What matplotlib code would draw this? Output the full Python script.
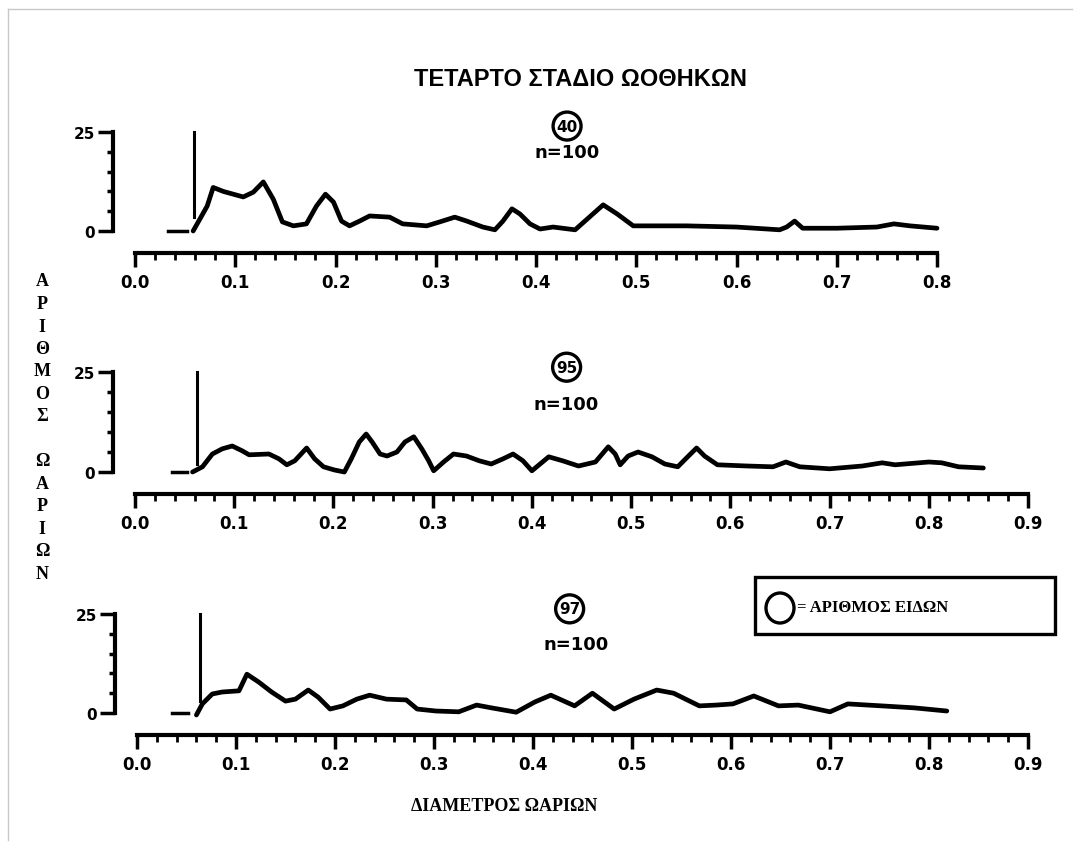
import matplotlib
matplotlib.use('Agg')
import matplotlib.pyplot as plt
import numpy as np
from matplotlib.patches import Rectangle, Ellipse
from matplotlib.lines import Line2D
from matplotlib.ticker import MultipleLocator

plt.rcParams['font.family'] = ['DejaVu Sans']
plt.rcParams['font.weight'] = 'bold'

# --- data (x = diameter, y = number of eggs) ---
x1 = [0.058, 0.072, 0.078, 0.088, 0.108, 0.118, 0.128, 0.138, 0.147, 0.158,
      0.171, 0.181, 0.190, 0.198, 0.206, 0.214, 0.224, 0.234, 0.254, 0.267,
      0.291, 0.304, 0.319, 0.331, 0.347, 0.359, 0.367, 0.376, 0.384, 0.394,
      0.404, 0.417, 0.439, 0.451, 0.467, 0.481, 0.497, 0.550, 0.600, 0.643,
      0.650, 0.658, 0.666, 0.700, 0.740, 0.757, 0.773, 0.800]
y1 = [0.0, 6.3, 11.0, 10.0, 8.6, 9.8, 12.4, 8.0, 2.3, 1.3,
      1.8, 6.3, 9.3, 7.3, 2.5, 1.3, 2.5, 3.8, 3.5, 1.8,
      1.3, 2.3, 3.5, 2.5, 1.0, 0.3, 2.5, 5.6, 4.3, 1.8,
      0.5, 1.0, 0.3, 3.0, 6.6, 4.3, 1.3, 1.3, 1.0, 0.3,
      1.0, 2.5, 0.7, 0.7, 1.0, 1.8, 1.3, 0.7]

x2 = [0.058, 0.068, 0.078, 0.088, 0.098, 0.108, 0.115, 0.135, 0.145, 0.153,
      0.161, 0.173, 0.181, 0.190, 0.201, 0.211, 0.218, 0.226, 0.233, 0.239,
      0.247, 0.254, 0.264, 0.272, 0.281, 0.289, 0.296, 0.301, 0.311, 0.321,
      0.334, 0.347, 0.359, 0.371, 0.381, 0.391, 0.400, 0.417, 0.431, 0.447,
      0.464, 0.477, 0.484, 0.489, 0.497, 0.507, 0.521, 0.534, 0.547, 0.557,
      0.566, 0.574, 0.587, 0.617, 0.643, 0.656, 0.670, 0.700, 0.733, 0.753,
      0.766, 0.800, 0.813, 0.830, 0.855]
y2 = [0.0, 1.3, 4.5, 5.8, 6.5, 5.3, 4.3, 4.5, 3.3, 1.8,
      2.8, 6.0, 3.3, 1.3, 0.5, 0.0, 3.3, 7.5, 9.5, 7.5,
      4.5, 4.0, 5.0, 7.5, 8.8, 5.8, 2.8, 0.3, 2.5, 4.5,
      4.0, 2.8, 2.0, 3.3, 4.5, 2.8, 0.3, 3.8, 2.8, 1.5,
      2.5, 6.3, 4.5, 1.8, 4.0, 5.0, 3.8, 2.0, 1.3, 3.8,
      6.0, 4.0, 1.8, 1.5, 1.3, 2.5, 1.3, 0.8, 1.5, 2.3,
      1.8, 2.5, 2.3, 1.3, 1.0]

x3 = [0.060, 0.066, 0.076, 0.086, 0.103, 0.111, 0.123, 0.136, 0.150, 0.160,
      0.173, 0.183, 0.195, 0.208, 0.222, 0.235, 0.252, 0.272, 0.283, 0.302,
      0.325, 0.343, 0.358, 0.383, 0.402, 0.418, 0.442, 0.460, 0.482, 0.502,
      0.525, 0.542, 0.568, 0.585, 0.602, 0.623, 0.648, 0.668, 0.700, 0.718,
      0.752, 0.785, 0.818]
y3 = [-0.5, 2.3, 4.8, 5.3, 5.6, 9.8, 7.8, 5.3, 3.0, 3.5,
      5.8, 4.0, 1.0, 1.8, 3.5, 4.5, 3.5, 3.3, 1.0, 0.5,
      0.3, 2.0, 1.3, 0.2, 2.8, 4.5, 1.8, 5.0, 1.0, 3.5,
      5.8, 5.0, 1.8, 2.0, 2.3, 4.3, 1.8, 2.0, 0.3, 2.3,
      1.8, 1.3, 0.5]

species = ['40', '95', '97']
n_eggs = ['n=100', 'n=100', 'n=100']
cutoff_x = [0.059, 0.062, 0.064]
cutoff_low = [3.5, 2.0, 3.0]
dash_x = [(0.033, 0.052), (0.037, 0.052), (0.035, 0.052)]
x_max = [0.8, 0.9, 0.9]

title = 'ΤΕΤΑΡΤΟ ΣΤΑΔΙΟ ΩΟΘΗΚΩΝ'
xlabel = 'ΔΙΑΜΕΤΡΟΣ ΩΑΡΙΩΝ'
ylabel = 'ΑΡΙΘΜΟΣ ΩΑΡΙΩΝ'
legend_text = '= ΑΡΙΘΜΟΣ ΕΙΔΩΝ'

W, H = 1080, 845


def px_rect(left, top, right, bottom):
    return [left / W, 1 - bottom / H, (right - left) / W, (bottom - top) / H]


fig = plt.figure(figsize=(10.8, 8.45), dpi=100)

# axes boxes in pixels: (x=0, y=25 top, x=xmax, y=0 bottom)
boxes = [px_rect(135, 133, 937, 232),
         px_rect(135, 373, 1028, 473),
         px_rect(137, 615, 1028, 714)]
# label positions (data coords) for circled number and n
circ_pos = [(0.431, 26.5), (0.435, 26.2), (0.437, 26.3)]
n_pos = [(0.431, 19.9), (0.435, 17.0), (0.444, 17.4)]

series = [(x1, y1), (x2, y2), (x3, y3)]

for i, (xs, ys) in enumerate(series):
    ax = fig.add_axes(boxes[i])
    ax.patch.set_alpha(0)
    ax.plot(xs, ys, color='black', lw=3.4, clip_on=False,
            solid_joinstyle='round', solid_capstyle='round')
    ax.plot(dash_x[i], [0, 0], color='black', lw=2.5, clip_on=False)
    ax.plot([cutoff_x[i], cutoff_x[i]], [cutoff_low[i], 25], color='black',
            lw=2.2, clip_on=False)

    ax.set_xlim(0, x_max[i])
    ax.set_ylim(0, 25)
    for s in ['top', 'right']:
        ax.spines[s].set_visible(False)
    ax.spines['bottom'].set_position(('outward', 15.5))
    ax.spines['left'].set_position(('outward', 16))
    ax.spines['bottom'].set_linewidth(3)
    ax.spines['left'].set_linewidth(3)

    xt = np.round(np.arange(0, x_max[i] + 0.001, 0.1), 1)
    ax.set_xticks(xt)
    ax.set_xticklabels([f'{v:.1f}' for v in xt])
    ax.xaxis.set_minor_locator(MultipleLocator(0.02))
    ax.set_yticks([0, 25])
    ax.set_yticks([5, 10, 15, 20], minor=True)
    ax.tick_params(axis='x', which='major', length=10, width=2.5, pad=5,
                   labelsize=12)
    ax.tick_params(axis='x', which='minor', length=5, width=2)
    ax.tick_params(axis='y', which='major', length=11, width=2.5, pad=2,
                   labelsize=11)
    ax.tick_params(axis='y', which='minor', length=4, width=2.5)

    ax.text(circ_pos[i][0], circ_pos[i][1], species[i], ha='center',
            va='center', fontsize=11, fontweight='bold',
            bbox=dict(boxstyle='circle,pad=0.22', fc='white', ec='black',
                      lw=2.4))
    ax.text(n_pos[i][0], n_pos[i][1], n_eggs[i], ha='center', va='center',
            fontsize=13, fontweight='bold')

fig.text(581 / W, 1 - 79 / H, title, ha='center', va='center', fontsize=17,
         family=['Liberation Sans', 'DejaVu Sans'], fontweight='bold')
fig.text(504 / W, 1 - 807 / H, xlabel, ha='center', va='center', fontsize=13,
         family=['Liberation Serif', 'DejaVu Serif'], fontweight='bold')

# stacked vertical y label
for k, ch in enumerate(ylabel):
    if ch == ' ':
        continue
    fig.text(42 / W, 1 - (282 + k * 22.5) / H, ch, ha='center', va='center',
             fontsize=13, family=['Liberation Serif', 'DejaVu Serif'],
             fontweight='bold')

# legend box
fig.add_artist(Rectangle((755 / W, 1 - 635 / H), 300 / W, 57 / H,
                         transform=fig.transFigure, fill=False,
                         ec='black', lw=2.4))
fig.add_artist(Ellipse((780 / W, 1 - 609 / H), 28 / W, 30 / H,
                       transform=fig.transFigure, fill=False,
                       ec='black', lw=2.4))
fig.text(797 / W, 1 - 608 / H, legend_text, ha='left', va='center',
         fontsize=12, family=['Liberation Serif', 'DejaVu Serif'],
         fontweight='bold')

# faint scan frame
fig.add_artist(Line2D([8 / W, 8 / W], [0.005, 1 - 10 / H],
                      transform=fig.transFigure, color='#c8c8c8', lw=1))
fig.add_artist(Line2D([8 / W, 1072 / W], [1 - 10 / H, 1 - 10 / H],
                      transform=fig.transFigure, color='#c8c8c8', lw=1))

fig.savefig('out.png', dpi=100)
